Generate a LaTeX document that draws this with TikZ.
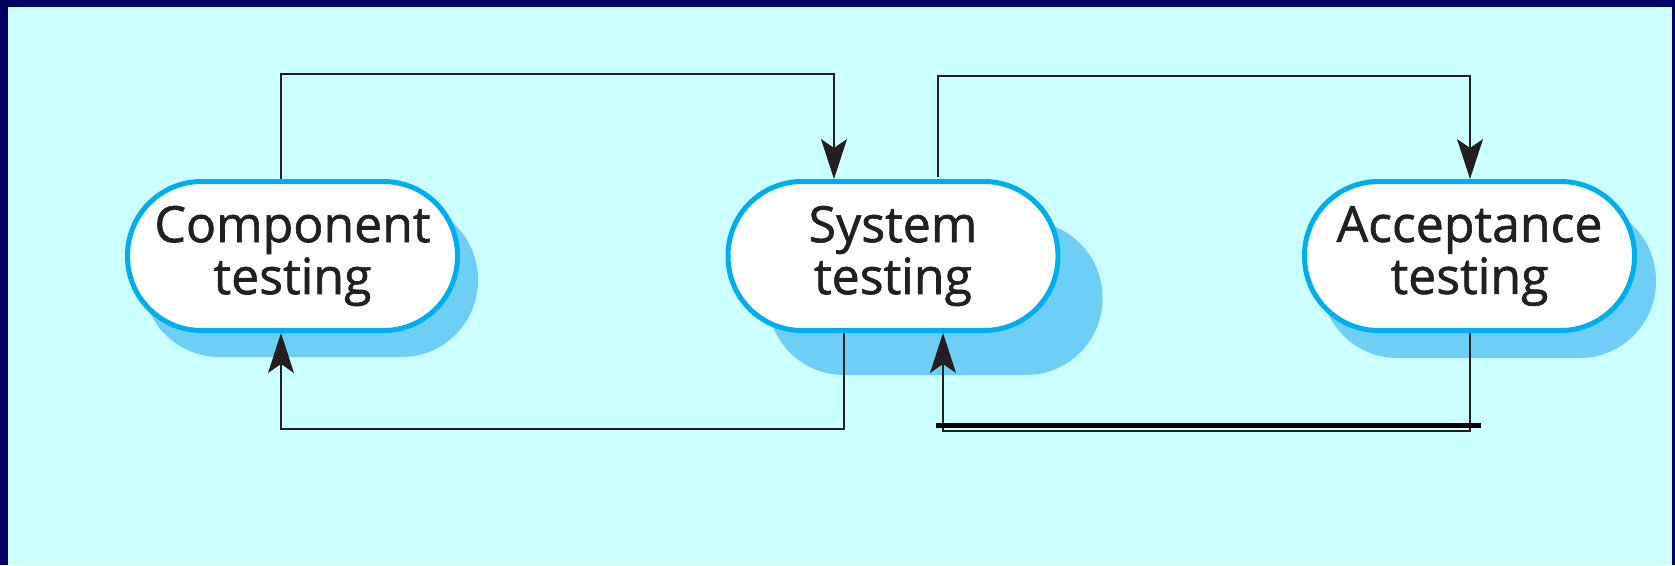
\documentclass[tikz,border=0pt]{standalone}
\usepackage{fontspec}
\setmainfont{Open Sans}
\newfontfamily\labelfont{Open Sans}[FakeBold=1.2]
\usetikzlibrary{arrows.meta}
\definecolor{bgc}{HTML}{CCFFFF}
\definecolor{framec}{HTML}{000066}
\definecolor{nodeline}{HTML}{00AEEF}
\definecolor{shadowc}{HTML}{6DCFF6}
\definecolor{ink}{HTML}{231F20}
\begin{document}
\begin{tikzpicture}[x=1pt,y=-1pt,
  stage/.style={draw=nodeline, line width=5pt, fill=white, rounded corners=74pt,
    minimum width=330pt, minimum height=149pt, inner sep=0pt, align=center,
    font=\labelfont\fontsize{50}{52}\selectfont, text=ink},
  shadowbox/.style={fill=shadowc, rounded corners=76.5pt, minimum width=335pt,
    minimum height=154pt, inner sep=0pt, draw=none},
  flow/.style={draw=ink, line width=1.4pt},
  tip/.style={-{Stealth[length=40pt,width=26pt,inset=9pt]}}
]
\fill[framec] (0,0) rectangle (1675,565);
\fill[bgc] (8,7) rectangle (1672,565);
\useasboundingbox (0,0) rectangle (1675,565);

\node[shadowbox] (compsh) at (310.5,280) {};
\node[shadowbox] (syssh) at (935,298) {};
\node[shadowbox] (accsh) at (1488.5,281) {};

\node[stage] (comp) at (292.5,256) {Component\\testing};
\node[stage] (sys) at (893,256) {System\\testing};
\node[stage] (acc) at (1469.5,256) {Acceptance\\testing};

\draw[flow,tip] ([xshift=-11.5pt]comp.north) -- ++(0,-105) -| ([xshift=-59pt]sys.north);
\draw[flow,tip] ([xshift=45pt,yshift=2pt]sys.north) -- ++(0,-101) -| ([xshift=0.5pt]acc.north);
\draw[flow,tip] ([xshift=-49pt]sys.south) -- ++(0,96) -| ([xshift=-11.5pt]comp.south);
\draw[flow,tip] ([xshift=0.5pt]acc.south) -- ++(0,98) -| ([xshift=50pt]sys.south);

\coordinate (barl) at (936,425);
\coordinate (barr) at (1481,425);
\draw[line width=5pt, black] (barl) -- (barr);
\end{tikzpicture}
\end{document}
